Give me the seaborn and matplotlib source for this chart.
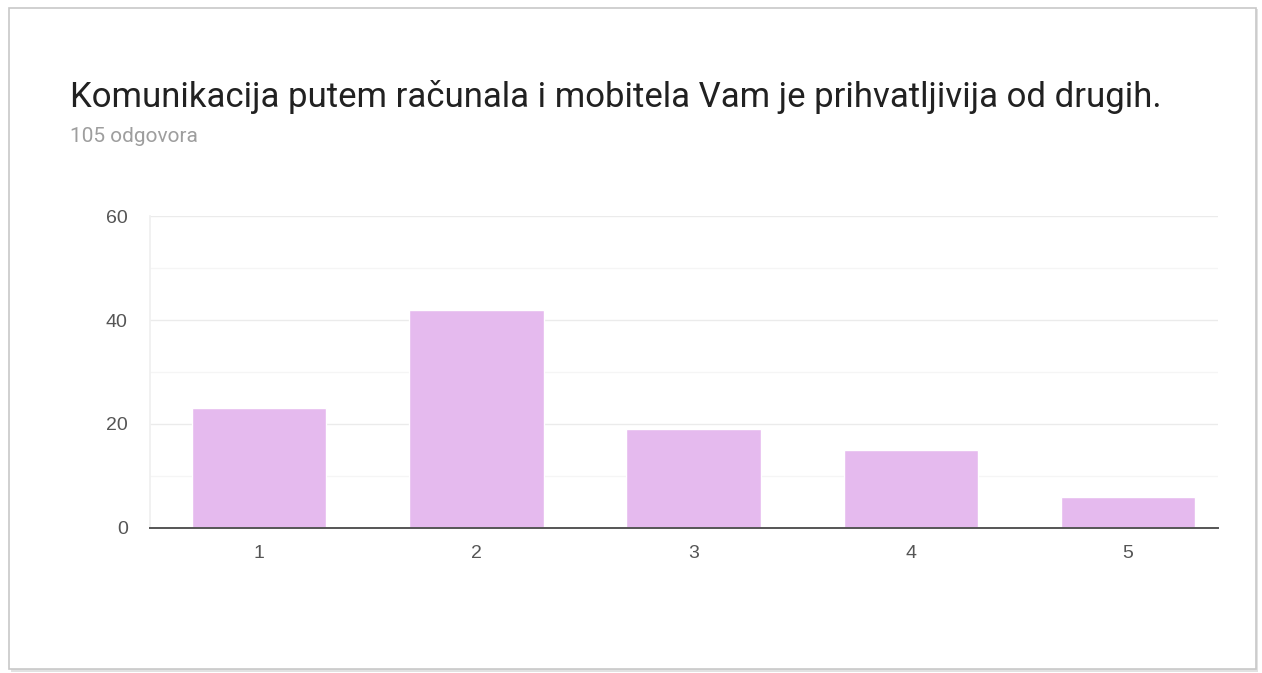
import numpy as np
import pandas as pd
import matplotlib.pyplot as plt
import seaborn as sns
from matplotlib.patches import Rectangle

# --- data ---
categories = ['1', '2', '3', '4', '5']
counts = [23, 42, 19, 15, 6]
title = 'Komunikacija putem računala i mobitela Vam je prihvatljivija od drugih.'
subtitle = '105 odgovora'

df = pd.DataFrame({'odgovor': categories, 'broj': counts})

sns.set_theme(style='white')
plt.rcParams['font.family'] = ['Roboto', 'DejaVu Sans']

fig = plt.figure(figsize=(12.62, 6.73), dpi=100)

# card border with a light shadow (drawn behind the axes)
shadow = Rectangle((0.009, 0.002), 0.988, 0.985, transform=fig.transFigure,
                   facecolor='#e2e2e2', edgecolor='none', zorder=-3)
card = Rectangle((0.007, 0.006), 0.988, 0.982, transform=fig.transFigure,
                 facecolor='white', edgecolor='#c8c8c8', linewidth=1.2,
                 zorder=-2)
fig.patches.extend([shadow, card])

ax = fig.add_axes([0.1189, 0.2155, 0.8463, 0.4635])
ax.set_facecolor('none')

sns.barplot(data=df, x='odgovor', y='broj', color='#e5baee', saturation=1,
            width=0.62, ax=ax, zorder=3)

ax.set_ylim(0, 60)
ax.set_xlim(-0.502, 4.414)
ax.set_yticks([0, 20, 40, 60])
ax.set_yticks([10, 30, 50], minor=True)
ax.grid(axis='y', which='major', color='#ebebeb', linewidth=1, zorder=0)
ax.grid(axis='y', which='minor', color='#f5f5f5', linewidth=1, zorder=0)
ax.set_axisbelow(True)

for side in ['top', 'right']:
    ax.spines[side].set_visible(False)
ax.spines['left'].set_color('#f0f0f0')
ax.spines['bottom'].set_color('#555555')
ax.spines['bottom'].set_linewidth(1.4)
ax.spines['bottom'].set_zorder(4)

ax.tick_params(axis='both', which='both', length=0, labelsize=14,
               labelcolor='#555555')
ax.tick_params(axis='y', pad=16)
ax.tick_params(axis='x', pad=12)
for lbl in ax.get_xticklabels() + ax.get_yticklabels():
    lbl.set_fontfamily(['Liberation Sans', 'DejaVu Sans'])
ax.set_xlabel('')
ax.set_ylabel('')

fig.text(0.0555, 0.841, title, fontsize=25, color='#212121', va='baseline')
fig.text(0.0555, 0.789, subtitle, fontsize=15, color='#9e9e9e', va='baseline')

fig.savefig('out.png', dpi=100)
